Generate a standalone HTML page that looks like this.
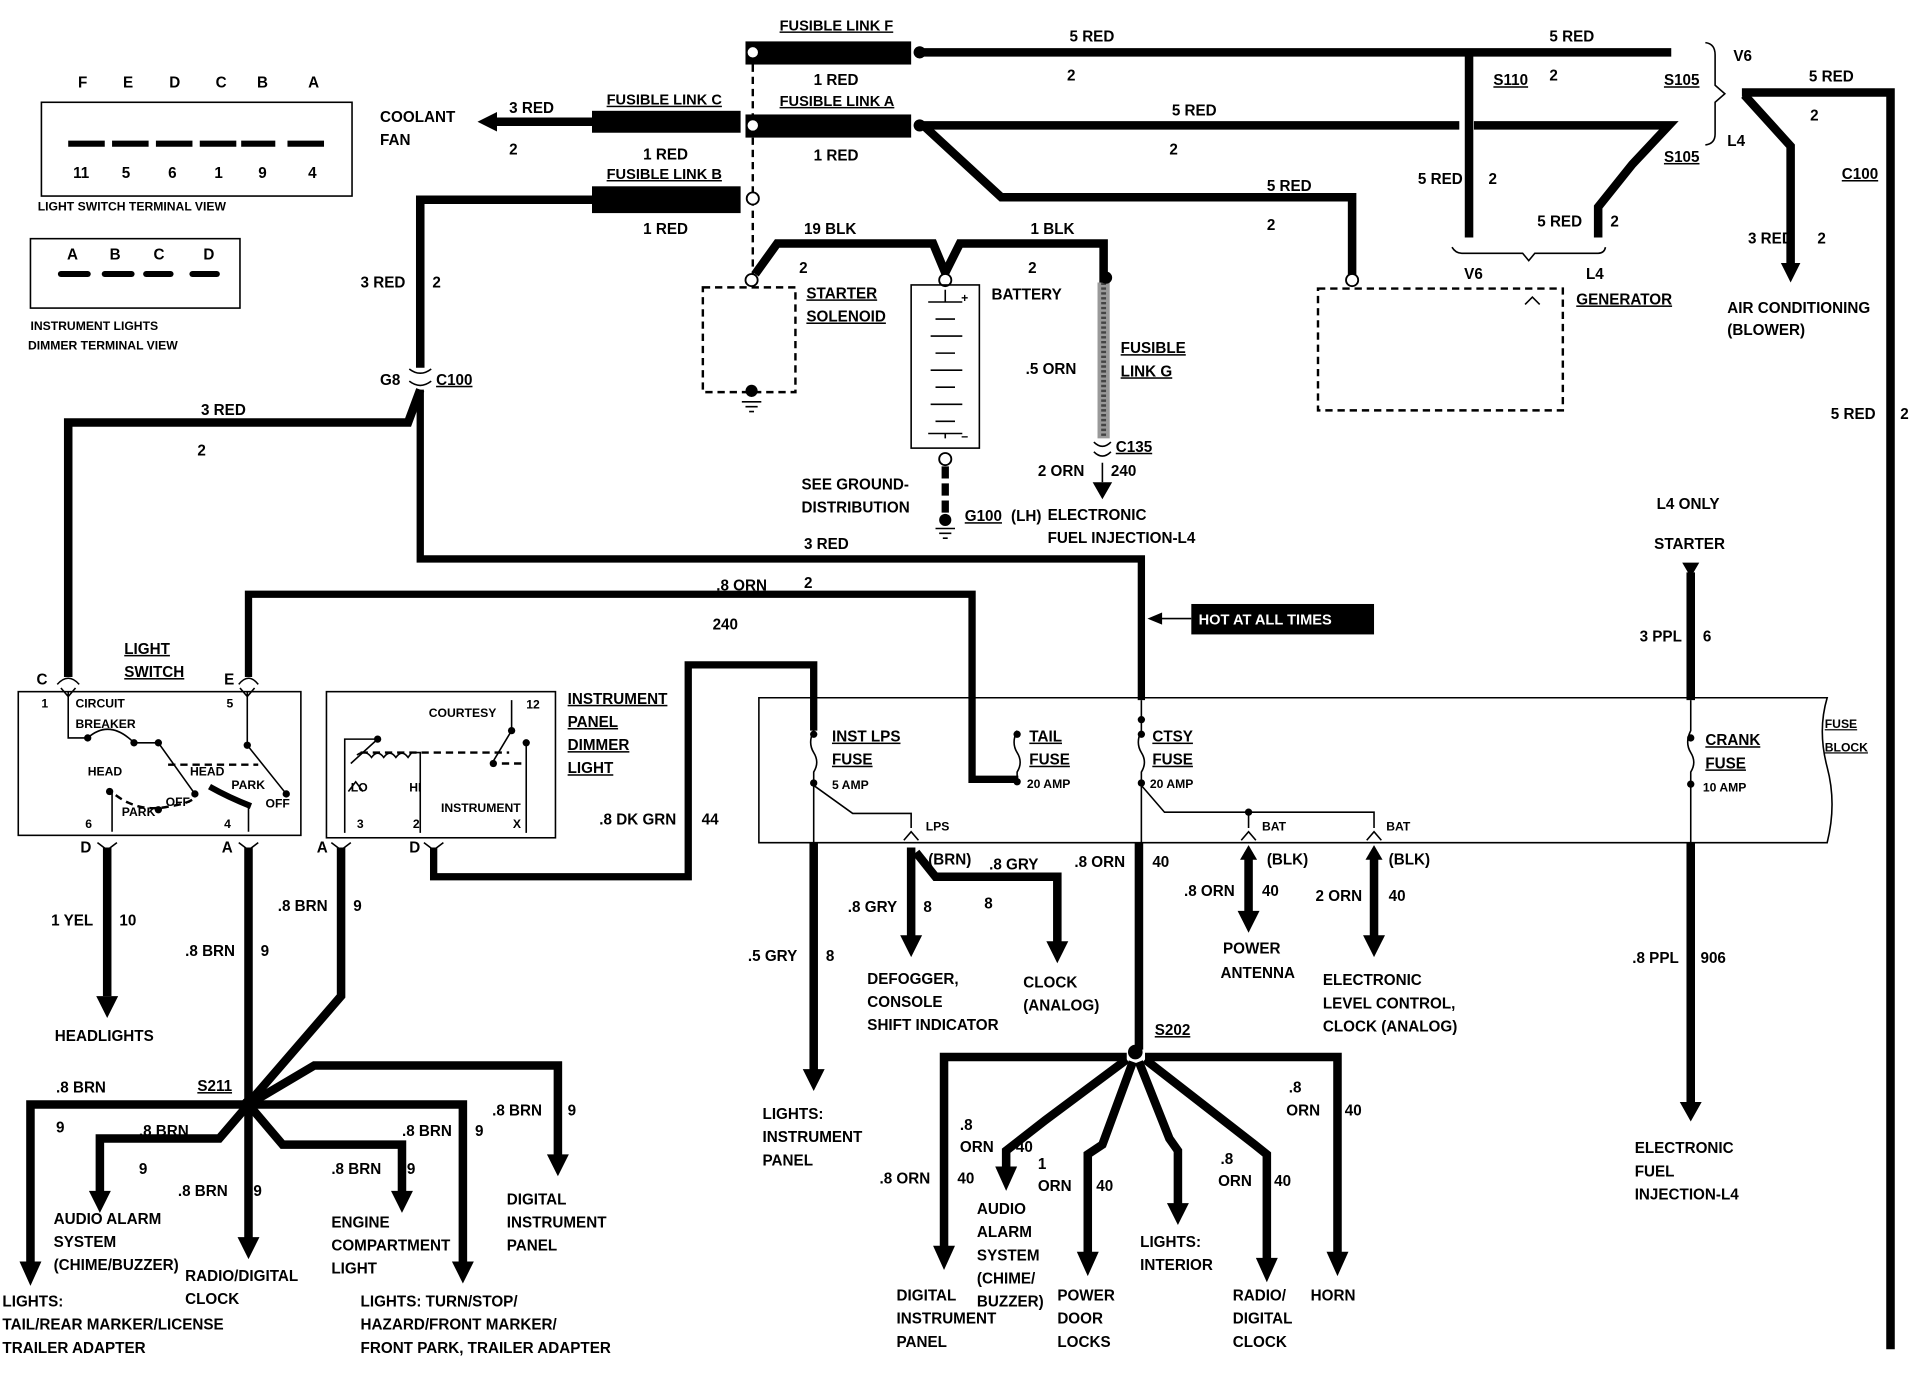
<!DOCTYPE html>
<html><head><meta charset="utf-8"><style>
html,body{margin:0;padding:0;background:#fff;width:1910px;height:1376px;overflow:hidden}
svg{display:block}
text{font-family:"Liberation Sans",sans-serif;font-weight:bold;font-size:12.5px;fill:#000}
.w{stroke:#000;stroke-width:7;fill:none;stroke-linejoin:miter}
.t{stroke:#000;stroke-width:1.3;fill:none}
.d{stroke:#000;stroke-width:2;fill:none;stroke-dasharray:6,4}
.s{font-size:10px}
.f{font-size:12px}
</style></head><body>
<svg width="1910" height="1376" viewBox="0 0 1568 1130" preserveAspectRatio="none">

<!-- terminal views -->
<g>
<text x="64" y="72">F</text><text x="101" y="72">E</text><text x="139" y="72">D</text><text x="177" y="72">C</text><text x="211" y="72">B</text><text x="253" y="72">A</text>
<rect x="34" y="84" width="255" height="77" class="t" stroke-width="2.5"/>
<g stroke="#000" stroke-width="5"><line x1="56" y1="118" x2="86" y2="118"/><line x1="92" y1="118" x2="122" y2="118"/><line x1="128" y1="118" x2="158" y2="118"/><line x1="164" y1="118" x2="194" y2="118"/><line x1="198" y1="118" x2="226" y2="118"/><line x1="236" y1="118" x2="266" y2="118"/></g>
<text x="60" y="146">11</text><text x="100" y="146">5</text><text x="138" y="146">6</text><text x="176" y="146">1</text><text x="212" y="146">9</text><text x="253" y="146">4</text>
<text x="31" y="173" class="s">LIGHT SWITCH TERMINAL VIEW</text>
<rect x="25" y="196" width="172" height="57" class="t" stroke-width="2.5"/>
<text x="55" y="213">A</text><text x="90" y="213">B</text><text x="126" y="213">C</text><text x="167" y="213">D</text>
<g stroke="#000" stroke-width="5" stroke-linecap="round"><line x1="50" y1="225" x2="72" y2="225"/><line x1="86" y1="225" x2="108" y2="225"/><line x1="120" y1="225" x2="140" y2="225"/><line x1="158" y1="225" x2="178" y2="225"/></g>
<text x="25" y="271" class="s">INSTRUMENT LIGHTS</text>
<text x="23" y="287" class="s">DIMMER TERMINAL VIEW</text>
</g>

<!-- fusible links -->
<rect x="612" y="34" width="136" height="19" fill="#000"/>
<rect x="612" y="94" width="136" height="19" fill="#000"/>
<rect x="486" y="91" width="122" height="18" fill="#000"/>
<rect x="486" y="153" width="122" height="22" fill="#000"/>
<line x1="618" y1="43" x2="618" y2="228" class="d" stroke-width="1.5"/>
<g fill="#fff" stroke="#000" stroke-width="1.5"><circle cx="618" cy="43" r="5"/><circle cx="618" cy="103" r="5"/><circle cx="618" cy="163" r="5"/></g>
<text x="640" y="25" class="f" text-decoration="underline">FUSIBLE LINK F</text>
<text x="668" y="70">1 RED</text>
<text x="640" y="87" class="f" text-decoration="underline">FUSIBLE LINK A</text>
<text x="668" y="132">1 RED</text>
<text x="498" y="86" class="f" text-decoration="underline">FUSIBLE LINK C</text>
<text x="528" y="131">1 RED</text>
<text x="498" y="147" class="f" text-decoration="underline">FUSIBLE LINK B</text>
<text x="528" y="192">1 RED</text>

<!-- top wires -->
<path class="w" d="M752,43 H1372"/><circle cx="755" cy="43" r="5"/>
<text x="878" y="34">5 RED</text><text x="1272" y="34">5 RED</text><text x="876" y="66">2</text>
<path class="w" d="M1206,43 V195"/>
<text x="1226" y="70" text-decoration="underline">S110</text><text x="1272" y="66">2</text>
<text x="1366" y="70" text-decoration="underline">S105</text>
<text x="1423" y="50">V6</text><text x="1418" y="120">L4</text>
<path class="t" d="M1400,35 Q1408,36 1408,45 V70 L1416,77 L1408,84 V110 Q1408,118 1400,119" stroke-width="1.5"/>
<path class="w" d="M752,103 H1198 M1210,103 H1370 L1340,135 L1312,170 V195"/>
<circle cx="755" cy="103" r="5"/>
<text x="962" y="95">5 RED</text><text x="960" y="127">2</text>
<text x="1366" y="133" text-decoration="underline">S105</text>
<path class="w" d="M758,103 L822,162 H1110 V228"/>
<text x="1040" y="157">5 RED</text><text x="1040" y="189">2</text>
<text x="1164" y="151">5 RED</text><text x="1222" y="151">2</text>
<text x="1262" y="186">5 RED</text><text x="1322" y="186">2</text>
<path class="t" d="M1192,203 Q1195,208 1200,208 H1250 L1255,214 L1260,208 H1312 Q1317,208 1318,203" stroke-width="1.5"/>
<text x="1202" y="229">V6</text><text x="1302" y="229">L4</text>

<!-- coolant fan -->
<path class="w" d="M486,100 H404"/><path d="M392,100 L408,92 L408,108z"/>
<text x="312" y="100">COOLANT</text><text x="312" y="119">FAN</text>
<text x="418" y="93">3 RED</text><text x="418" y="127">2</text>

<!-- fusible link B path -->
<path class="w" d="M486,164 H345 V302"/>
<text x="296" y="236">3 RED</text><text x="355" y="236">2</text>
<text x="312" y="316">G8</text><text x="358" y="316" text-decoration="underline">C100</text>
<path class="t" d="M336,303 Q345,310 354,303 M336,313 Q345,320 354,313" stroke-width="2.5"/>
<path class="w" d="M345,320 L335,347 H56 V556"/>
<text x="165" y="341">3 RED</text><text x="162" y="374">2</text>
<path class="w" d="M345,320 V459 H937 V575" style="stroke-width:6"/>
<text x="660" y="451">3 RED</text>

<!-- starter solenoid -->
<rect x="577" y="236" width="76" height="86" class="d"/>
<circle cx="617" cy="230" r="5" fill="#fff" stroke="#000" stroke-width="1.5"/>
<circle cx="617" cy="321" r="5"/><path class="t" d="M609,330 H625 M612,334 H622 M615,338 H619"/>
<text x="662" y="245" text-decoration="underline">STARTER</text>
<text x="662" y="264" text-decoration="underline">SOLENOID</text>
<path class="w" d="M620,225 L638,200 H766 L776,224 L788,200 H906 V232"/>
<text x="660" y="192">19 BLK</text><text x="656" y="224">2</text>
<text x="846" y="192">1 BLK</text><text x="844" y="224">2</text>
<circle cx="776" cy="230" r="5" fill="#fff" stroke="#000" stroke-width="1.5"/>
<rect x="748" y="234" width="56" height="134" class="t" stroke-width="2.5"/>
<g class="t" stroke-width="1.5"><path d="M762,248 H790 M776,238 V248 M768,262 H784 M764,276 H790 M768,290 H784 M764,304 H790 M768,318 H784 M764,332 H790 M768,346 H784 M776,356 V360 M762,356 H790"/></g>
<text x="789" y="248" class="s">+</text><text x="789" y="362" class="s">−</text>
<text x="814" y="246">BATTERY</text>
<circle cx="776" cy="377" r="5" fill="#fff" stroke="#000" stroke-width="1.5"/>
<path d="M776,383 V425" stroke="#000" stroke-width="6" stroke-dasharray="10,4"/>
<circle cx="776" cy="427" r="5"/><path class="t" d="M768,434 H784 M771,438 H781 M774,442 H778"/>
<text x="658" y="402">SEE GROUND-</text><text x="658" y="421">DISTRIBUTION</text>
<text x="792" y="428" text-decoration="underline">G100</text><text x="830" y="428">(LH)</text>
<rect x="901" y="232" width="10" height="128" fill="#999"/>
<path d="M906,232 V360" stroke="#444" stroke-width="4" stroke-dasharray="2,2"/>
<circle cx="908" cy="228" r="5"/>
<text x="920" y="290" text-decoration="underline">FUSIBLE</text><text x="920" y="309" text-decoration="underline">LINK G</text>
<text x="842" y="307">.5 ORN</text>
<path class="t" d="M898,363 Q905,370 912,363 M898,371 Q905,378 912,371" stroke-width="2.5"/>
<text x="916" y="371" text-decoration="underline">C135</text>
<text x="852" y="391">2 ORN</text><text x="912" y="391">240</text>
<path d="M905,380 V396" class="t"/><path d="M897,396 L913,396 L905,410z"/>
<text x="860" y="427">ELECTRONIC</text><text x="860" y="446">FUEL INJECTION-L4</text>

<!-- generator -->
<rect x="1082" y="237" width="201" height="100" class="d" stroke-width="2.5"/>
<circle cx="1110" cy="230" r="5" fill="#fff" stroke="#000" stroke-width="1.5"/>
<path class="t" d="M1252,250 L1258,244 L1264,250"/>
<text x="1294" y="250" text-decoration="underline">GENERATOR</text>

<!-- right side -->
<path class="w" d="M1430,76 H1552 V1108"/>
<text x="1485" y="67">5 RED</text><text x="1486" y="99">2</text>
<path class="w" d="M1432,78 L1470,120 V218"/><path d="M1462,216 L1478,216 L1470,232z"/>
<text x="1512" y="147" text-decoration="underline">C100</text>
<text x="1435" y="200">3 RED</text><text x="1492" y="200">2</text>
<text x="1418" y="257">AIR CONDITIONING</text><text x="1418" y="275">(BLOWER)</text>
<text x="1503" y="344">5 RED</text><text x="1560" y="344">2</text>
<text x="1360" y="418">L4 ONLY</text><text x="1358" y="451">STARTER</text>
<path d="M1381,462 H1395 L1388,474z"/>
<path class="w" d="M1388,470 V575"/>
<text x="1346" y="527">3 PPL</text><text x="1398" y="527">6</text>
<path class="w" d="M1388,692 V906"/><path d="M1379,905 H1397 L1388,921z"/>
<text x="1340" y="791">.8 PPL</text><text x="1396" y="791">906</text>
<text x="1342" y="947">ELECTRONIC</text><text x="1342" y="966">FUEL</text><text x="1342" y="985">INJECTION-L4</text>

<!-- hot at all times -->
<rect x="978" y="496" width="150" height="25" fill="#000"/>
<text x="984" y="513" style="fill:#fff;font-size:12px">HOT AT ALL TIMES</text>
<path class="t" d="M978,508 H948" stroke-width="2"/><path d="M942,508 L954,503 L954,513z"/>

<!-- E wire -->
<path class="w" d="M204,556 V488 H798 V640 H836" style="stroke-width:6"/>
<text x="588" y="485">.8 ORN</text><text x="660" y="483">2</text><text x="585" y="517">240</text>

<!-- light switch -->
<text x="102" y="537" text-decoration="underline">LIGHT</text><text x="102" y="556" text-decoration="underline">SWITCH</text>
<text x="30" y="562">C</text><text x="184" y="562">E</text>
<path class="t" d="M47,562 Q56,552 65,562 M196,562 Q204,552 212,562" stroke-width="2.5"/>
<rect x="15" y="568" width="232" height="118" class="t" stroke-width="2.5"/>
<g class="t"><path d="M56,568 V606 H72 Q90,590 110,610 L130,610 L160,652 M203,568 V612 L235,652 M92,650 V683 M204,660 V683 M50,565 L56,572 L62,565 M197,565 L203,572 L209,565"/></g>
<g><circle cx="72" cy="606" r="3"/><circle cx="110" cy="610" r="3"/><circle cx="130" cy="610" r="3"/><circle cx="160" cy="652" r="3"/><circle cx="203" cy="612" r="3"/><circle cx="235" cy="652" r="3"/><circle cx="90" cy="650" r="3"/><circle cx="130" cy="665" r="3"/></g>
<path class="d" d="M138,628 H212 M95,653 Q115,668 140,662 Q155,660 160,655" stroke-width="1.2"/>
<path d="M172,646 Q188,655 206,662" stroke="#000" stroke-width="5" fill="none"/>
<text x="62" y="581" class="s">CIRCUIT</text><text x="62" y="598" class="s">BREAKER</text>
<text x="34" y="581" class="s">1</text><text x="186" y="581" class="s">5</text>
<text x="72" y="637" class="s">HEAD</text><text x="156" y="637" class="s">HEAD</text>
<text x="190" y="648" class="s">PARK</text><text x="136" y="662" class="s">OFF</text><text x="218" y="663" class="s">OFF</text>
<text x="100" y="670" class="s">PARK</text>
<text x="70" y="680" class="s">6</text><text x="184" y="680" class="s">4</text>
<text x="66" y="700">D</text><text x="182" y="700">A</text>
<path class="t" d="M80,692 L88,698 L96,692 M196,692 L204,698 L212,692" stroke-width="2.5"/>
<path class="w" d="M88,696 V818"/><path d="M79,818 H97 L88,836z"/>
<text x="42" y="760">1 YEL</text><text x="98" y="760">10</text>
<text x="45" y="855">HEADLIGHTS</text>
<path class="w" d="M204,696 V905"/>
<text x="152" y="785">.8 BRN</text><text x="214" y="785">9</text>

<!-- dimmer -->
<rect x="268" y="568" width="188" height="120" class="t" stroke-width="2.5"/>
<g class="t"><path d="M283,684 V607 H310 M310,607 L288,627 M293,620 Q300,615 305,622 Q310,615 315,622 Q320,615 325,622 Q330,615 335,622 L338,618 H345 V684 M420,575 V600 L405,625 M432,610 V684 M286,650 L292,642 L298,650"/></g>
<path class="d" d="M296,618 H418 M412,627 L430,627" stroke-width="1.2"/>
<g><circle cx="310" cy="607" r="3"/><circle cx="420" cy="600" r="3"/><circle cx="405" cy="627" r="3"/><circle cx="432" cy="610" r="3"/></g>
<text x="352" y="589" class="s">COURTESY</text><text x="432" y="582" class="s">12</text>
<text x="288" y="650" class="s">LO</text><text x="336" y="650" class="s">HI</text>
<text x="362" y="667" class="s">INSTRUMENT</text><text x="421" y="680" class="s">X</text>
<text x="293" y="680" class="s">3</text><text x="339" y="680" class="s">2</text>
<text x="466" y="578" text-decoration="underline">INSTRUMENT</text><text x="466" y="597" text-decoration="underline">PANEL</text>
<text x="466" y="616" text-decoration="underline">DIMMER</text><text x="466" y="635" text-decoration="underline">LIGHT</text>
<text x="260" y="700">A</text><text x="336" y="700">D</text>
<path class="t" d="M272,692 L280,698 L288,692 M348,692 L356,698 L364,692" stroke-width="2.5"/>
<path class="w" d="M356,696 V720 H565 V546 H668 V600" style="stroke-width:6"/>
<text x="492" y="677">.8 DK GRN</text><text x="576" y="677">44</text>
<path class="w" d="M280,696 V818 L204,906"/>
<text x="228" y="748">.8 BRN</text><text x="290" y="748">9</text>

<!-- S211 -->
<text x="162" y="896" text-decoration="underline">S211</text>
<circle cx="204" cy="907" r="6"/>
<g class="w">
<path d="M204,907 H25 V1038"/>
<path d="M204,907 L180,935 H82 V980"/>
<path d="M204,907 V1018"/>
<path d="M204,907 L232,940 H330 V980"/>
<path d="M204,907 H380 V1038"/>
<path d="M204,907 L258,875 H458 V950"/>
</g>
<g><path d="M16,1036 H34 L25,1056z"/><path d="M73,978 H91 L82,996z"/><path d="M195,1016 H213 L204,1034z"/><path d="M321,978 H339 L330,996z"/><path d="M371,1036 H389 L380,1054z"/><path d="M449,948 H467 L458,966z"/></g>
<text x="46" y="897">.8 BRN</text><text x="46" y="930">9</text>
<text x="114" y="933">.8 BRN</text><text x="114" y="964">9</text>
<text x="146" y="982">.8 BRN</text><text x="208" y="982">9</text>
<text x="272" y="964">.8 BRN</text><text x="334" y="964">9</text>
<text x="330" y="933">.8 BRN</text><text x="390" y="933">9</text>
<text x="404" y="916">.8 BRN</text><text x="466" y="916">9</text>
<text x="44" y="1005">AUDIO ALARM</text><text x="44" y="1024">SYSTEM</text><text x="44" y="1043">(CHIME/BUZZER)</text>
<text x="152" y="1052">RADIO/DIGITAL</text><text x="152" y="1071">CLOCK</text>
<text x="2" y="1073">LIGHTS:</text><text x="2" y="1092">TAIL/REAR MARKER/LICENSE</text><text x="2" y="1111">TRAILER ADAPTER</text>
<text x="272" y="1008">ENGINE</text><text x="272" y="1027">COMPARTMENT</text><text x="272" y="1046">LIGHT</text>
<text x="416" y="989">DIGITAL</text><text x="416" y="1008">INSTRUMENT</text><text x="416" y="1027">PANEL</text>
<text x="296" y="1073">LIGHTS: TURN/STOP/</text><text x="296" y="1092">HAZARD/FRONT MARKER/</text><text x="296" y="1111">FRONT PARK, TRAILER ADAPTER</text>

<!-- fuse block -->
<path d="M623,573 H1500 Q1492,600 1500,630 Q1508,660 1500,692 H623 Z" class="t" stroke-width="3"/>
<text x="1498" y="598" class="s" text-decoration="underline">FUSE</text><text x="1498" y="617" class="s" text-decoration="underline">BLOCK</text>
<g class="t">
<path d="M668,575 V600 Q663,610 668,618 Q673,626 668,634 V645 L700,668 H748 V680"/>
<path d="M835,600 Q830,610 835,618 Q840,626 835,634 V642"/>
<path d="M937,575 V600 Q932,610 937,618 Q942,626 937,634 V645 L956,667 H1128 V680 M1025,667 V680"/>
<path d="M1388,575 V600 Q1383,610 1388,618 Q1393,626 1388,634 V692"/>
<path d="M668,645 V692 M937,645 V692"/>
<path d="M742,690 L748,683 L754,690 M1019,690 L1025,683 L1031,690 M1122,690 L1128,683 L1134,690"/>
</g>
<g><circle cx="668" cy="603" r="3"/><circle cx="668" cy="643" r="3"/><circle cx="835" cy="603" r="3"/><circle cx="835" cy="642" r="3"/><circle cx="937" cy="591" r="3"/><circle cx="937" cy="603" r="3"/><circle cx="937" cy="643" r="3"/><circle cx="1025" cy="667" r="3"/><circle cx="1388" cy="606" r="3"/><circle cx="1388" cy="644" r="3"/></g>
<text x="683" y="609" text-decoration="underline">INST LPS</text><text x="683" y="628" text-decoration="underline">FUSE</text><text x="683" y="648" class="s">5 AMP</text>
<text x="845" y="609" text-decoration="underline">TAIL</text><text x="845" y="628" text-decoration="underline">FUSE</text><text x="843" y="647" class="s">20 AMP</text>
<text x="946" y="609" text-decoration="underline">CTSY</text><text x="946" y="628" text-decoration="underline">FUSE</text><text x="944" y="647" class="s">20 AMP</text>
<text x="1400" y="612" text-decoration="underline">CRANK</text><text x="1400" y="631" text-decoration="underline">FUSE</text><text x="1398" y="650" class="s">10 AMP</text>
<text x="760" y="682" class="s">LPS</text><text x="1036" y="682" class="s">BAT</text><text x="1138" y="682" class="s">BAT</text>

<!-- fuse block outputs -->
<g class="w">
<path d="M668,692 V880"/>
<path d="M748,696 V770"/>
<path d="M752,700 L768,720 H868 V775"/>
<path d="M935,692 V862"/>
<path d="M1025,700 V750"/>
<path d="M1128,700 V770"/>
</g>
<g><path d="M659,878 H677 L668,896z"/><path d="M739,768 H757 L748,786z"/><path d="M859,773 H877 L868,791z"/>
<path d="M1016,748 H1034 L1025,766z"/><path d="M1018,706 L1025,694 L1032,706z"/><path d="M1119,768 H1137 L1128,786z"/><path d="M1121,706 L1128,694 L1135,706z"/></g>
<text x="614" y="789">.5 GRY</text><text x="678" y="789">8</text>
<text x="696" y="749">.8 GRY</text><text x="758" y="749">8</text>
<text x="762" y="710">(BRN)</text><text x="812" y="714">.8 GRY</text><text x="808" y="746">8</text>
<text x="882" y="712">.8 ORN</text><text x="946" y="712">40</text>
<text x="1040" y="710">(BLK)</text><text x="972" y="736">.8 ORN</text><text x="1036" y="736">40</text>
<text x="1140" y="710">(BLK)</text><text x="1080" y="740">2 ORN</text><text x="1140" y="740">40</text>
<text x="626" y="919">LIGHTS:</text><text x="626" y="938">INSTRUMENT</text><text x="626" y="957">PANEL</text>
<text x="712" y="808">DEFOGGER,</text><text x="712" y="827">CONSOLE</text><text x="712" y="846">SHIFT INDICATOR</text>
<text x="840" y="811">CLOCK</text><text x="840" y="830">(ANALOG)</text>
<text x="1004" y="783">POWER</text><text x="1002" y="803">ANTENNA</text>
<text x="1086" y="809">ELECTRONIC</text><text x="1086" y="828">LEVEL CONTROL,</text><text x="1086" y="847">CLOCK (ANALOG)</text>

<!-- S202 -->
<text x="948" y="850" text-decoration="underline">S202</text>
<circle cx="932" cy="864" r="6"/>
<g class="w">
<path d="M925,868 H775 V1025"/>
<path d="M925,870 L858,920 L826,945 V960"/>
<path d="M930,872 L905,940 L893,948 V1030"/>
<path d="M935,872 L960,935 L967,945 V990"/>
<path d="M940,870 L1030,940 L1040,948 V1035"/>
<path d="M940,868 H1098 V1030"/>
</g>
<g><path d="M766,1023 H784 L775,1043z"/><path d="M817,958 H835 L826,978z"/><path d="M884,1028 H902 L893,1048z"/><path d="M958,988 H976 L967,1006z"/><path d="M1031,1033 H1049 L1040,1053z"/><path d="M1089,1028 H1107 L1098,1048z"/></g>
<text x="722" y="972">.8 ORN</text><text x="786" y="972">40</text>
<text x="788" y="928">.8</text><text x="788" y="946">ORN</text><text x="834" y="946">40</text>
<text x="852" y="960">1</text><text x="852" y="978">ORN</text><text x="900" y="978">40</text>
<text x="1002" y="956">.8</text><text x="1000" y="974">ORN</text><text x="1046" y="974">40</text>
<text x="1058" y="897">.8</text><text x="1056" y="916">ORN</text><text x="1104" y="916">40</text>
<text x="736" y="1068">DIGITAL</text><text x="736" y="1087">INSTRUMENT</text><text x="736" y="1106">PANEL</text>
<text x="802" y="997">AUDIO</text><text x="802" y="1016">ALARM</text><text x="802" y="1035">SYSTEM</text><text x="802" y="1054">(CHIME/</text><text x="802" y="1073">BUZZER)</text>
<text x="868" y="1068">POWER</text><text x="868" y="1087">DOOR</text><text x="868" y="1106">LOCKS</text>
<text x="936" y="1024">LIGHTS:</text><text x="936" y="1043">INTERIOR</text>
<text x="1012" y="1068">RADIO/</text><text x="1012" y="1087">DIGITAL</text><text x="1012" y="1106">CLOCK</text>
<text x="1076" y="1068">HORN</text>
</svg>
</body></html>
